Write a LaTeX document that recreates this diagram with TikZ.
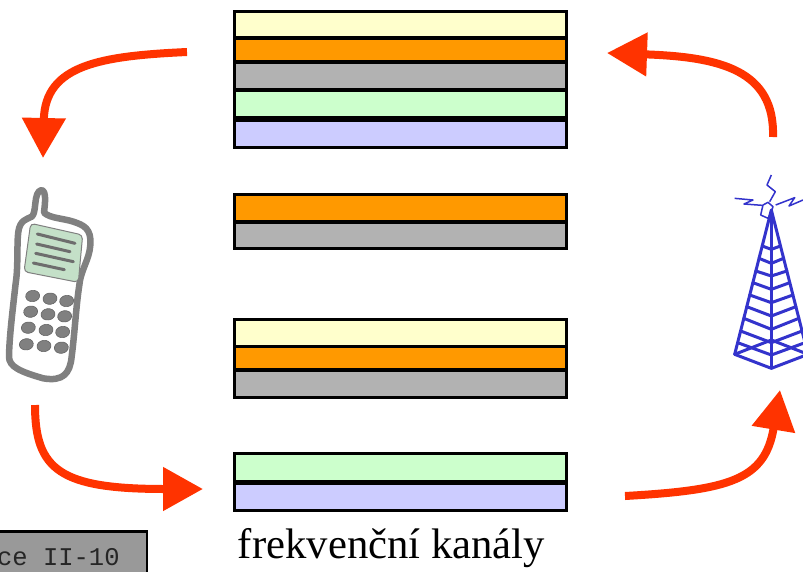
\documentclass[tikz,border=0pt]{standalone}
\usepackage{fontspec}
\setmainfont{Liberation Serif}
\setmonofont{Liberation Mono}
\usetikzlibrary{arrows.meta}
\definecolor{bYel}{HTML}{FFFFCC}
\definecolor{bOra}{HTML}{FF9900}
\definecolor{bGra}{HTML}{B2B2B2}
\definecolor{bGre}{HTML}{CCFFCC}
\definecolor{bBlu}{HTML}{CCCCFF}
\definecolor{aRed}{HTML}{FF3300}
\definecolor{tBlu}{HTML}{3333CC}
\definecolor{pGra}{HTML}{808080}
\definecolor{pScr}{HTML}{C4E0C8}
\tikzset{
  band/.style={draw=black,line width=3pt,minimum width=332pt,inner sep=0pt,outer sep=0pt},
  bigarrow/.style={draw=aRed,line width=8pt,-{Triangle[length=40pt,width=42pt,fill=aRed]}},
  tw/.style={draw=tBlu,line width=3pt,line cap=round,line join=round},
  ant/.style={draw=tBlu,line width=1.5pt,line join=round},
  key/.style={fill=pGra,draw=pGra!80!black,line width=0.6pt},
  line/.style={draw=pGra!85!black,line width=3pt,line cap=round}
}
\begin{document}
\begin{tikzpicture}[x=1pt,y=-1pt]
\clip (0,0) rectangle (803,571);
\fill[white] (0,0) rectangle (803,571);
% stack 1
\node[band,fill=bYel,minimum height=26pt] (a1) at (400,24.5) {};
\node[band,fill=bOra,minimum height=23pt] (a2) at (400,49.5) {};
\node[band,fill=bGra,minimum height=27pt] (a3) at (400,75.5) {};
\node[band,fill=bGre,minimum height=27pt] (a4) at (400,103.5) {};
\node[band,fill=bBlu,minimum height=27pt] (a5) at (400,133.5) {};
% stack 2
\node[band,fill=bOra,minimum height=27pt] (b1) at (400,207.5) {};
\node[band,fill=bGra,minimum height=26pt] (b2) at (400,235) {};
% stack 3
\node[band,fill=bYel,minimum height=27pt] (c1) at (400,332.5) {};
\node[band,fill=bOra,minimum height=23pt] (c2) at (400,358) {};
\node[band,fill=bGra,minimum height=27pt] (c3) at (400,383.5) {};
% stack 4
\node[band,fill=bGre,minimum height=28pt] (d1) at (400,467) {};
\node[band,fill=bBlu,minimum height=27pt] (d2) at (400,496.5) {};
% label
\node (lab) at (391.5,548) {\fontsize{42.7}{43}\selectfont frekvenční kanály};
% grey box
\node[draw=black,line width=2.5pt,fill=black!40,minimum width=160pt,minimum height=60pt,anchor=north east,inner sep=0pt] (gbox) at (148,530) {};
\node[anchor=west,inner sep=0pt,text=black!85] (gtext) at (-3,557) {\ttfamily\fontsize{25.5}{26}\selectfont ce II-10};
% arrows
\coordinate (p1s) at (187,52);
\coordinate (p1e) at (43,158);
\coordinate (p2s) at (35,405);
\coordinate (p2e) at (203,489);
\coordinate (p3s) at (625,496);
\coordinate (p3e) at (780,390);
\coordinate (p4s) at (773,137);
\coordinate (p4e) at (607,53);
\draw[bigarrow] (p1s) .. controls (100,56) and (45,65) .. (p1e);
\draw[bigarrow] (p2s) .. controls (35,470) and (60,489) .. (p2e);
\draw[bigarrow] (p3s) .. controls (730,490) and (765,480) .. (p3e);
\draw[bigarrow] (p4s) .. controls (775,70) and (720,57) .. (p4e);
% phone
\begin{scope}[shift={(0,170)},scale=1/3]
\draw[draw=pGra,line width=6.5pt,fill=white,line join=round]
 (125,60) .. controls (112,62) and (108,80) .. (106,100) .. controls (104,120) and (102,135) .. (95,140)
 .. controls (80,148) and (60,150) .. (55,185)
 .. controls (50,220) and (55,290) .. (47,340)
 .. controls (38,420) and (28,500) .. (27,560)
 .. controls (27,590) and (60,605) .. (130,625)
 .. controls (190,635) and (210,610) .. (215,560)
 .. controls (225,480) and (228,410) .. (238,345)
 .. controls (242,300) and (268,270) .. (271,225)
 .. controls (275,175) and (250,165) .. (220,155)
 .. controls (190,145) and (150,145) .. (132,128)
 .. controls (135,100) and (140,65) .. (125,60) -- cycle;
\draw[draw=pGra,line width=1pt,fill=pScr,rounded corners=4pt]
 (92,160) -- (248,195) -- (235,337) -- (72,305) -- cycle;
\draw[line] (112,192) -- (225,220);
\draw[line] (110,222) -- (210,245);
\draw[line] (107,250) -- (220,275);
\draw[line] (100,279) -- (193,299);
\foreach \kx/\ky in {98/378,150/386,200/393,92/425,144/433,194/439,85/473,138/480,188/486,79/523,132/528,184/533}
  \fill[key] (\kx,\ky) ellipse[x radius=21,y radius=17,rotate=8];
\end{scope}
% tower
\begin{scope}[shift={(713,170)},scale=1/3]
\draw[tw] (65,553) -- (175,120) -- (285,553);
\draw[tw] (175,120) -- (175,595);
\draw[tw] (65,553) -- (175,595) -- (285,553);
\draw[tw] (65,553) -- (175,510) -- (285,553);
\foreach \ly/\cy in {228/238,265/280,303/318,338/358,375/398,410/438,445/478,483/518,518/555}{
  \pgfmathsetmacro{\lx}{175-(\ly-120)/433*110}
  \pgfmathsetmacro{\rx}{175+(\ly-120)/433*110}
  \draw[tw] (\lx,\ly) -- (175,\cy) -- (\rx,\ly);
}
\draw[ant] (150,105) -- (165,97) -- (180,110) -- (175,125) -- (165,145) -- (143,135) -- cycle;
\draw[ant] (65,85) -- (120,90) -- (93,102) -- (148,106);
\draw[ant] (175,15) -- (162,45) -- (187,65) -- (170,95);
\draw[ant] (188,105) -- (245,83) -- (228,108) -- (270,90);
\end{scope}
\end{tikzpicture}
\end{document}
